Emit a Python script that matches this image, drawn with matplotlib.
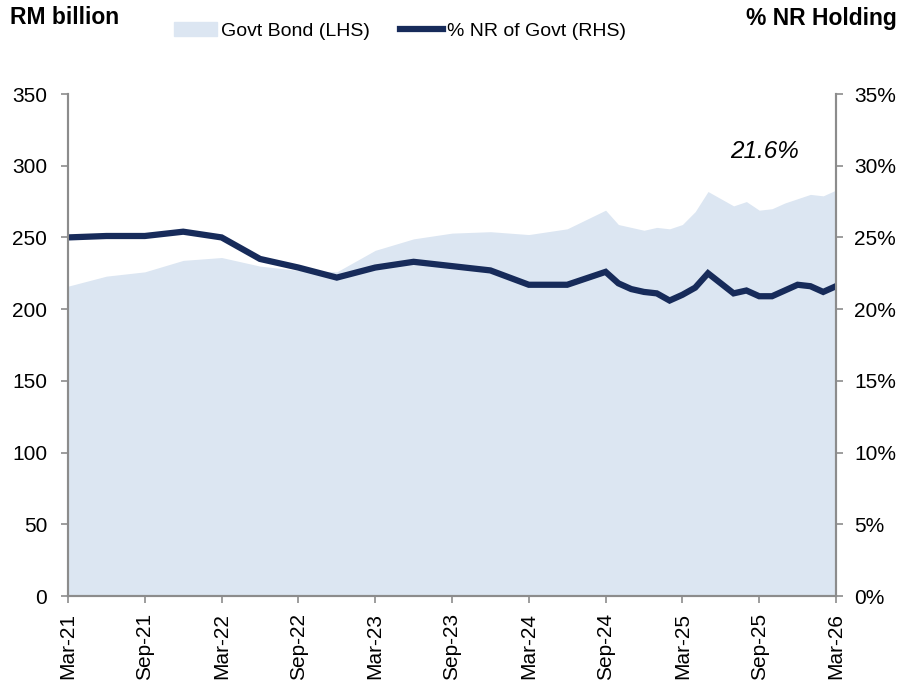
import matplotlib
matplotlib.use("Agg")
import matplotlib.pyplot as plt
import pandas as pd
from matplotlib.lines import Line2D
from matplotlib.patches import Patch
from matplotlib.ticker import FuncFormatter

plt.rcParams['font.family'] = ['Liberation Sans', 'DejaVu Sans']

# quarterly to Sep-24, monthly after that
months = ["2021-03", "2021-06", "2021-09", "2021-12", "2022-03", "2022-06", "2022-09",
          "2022-12", "2023-03", "2023-06", "2023-09", "2023-12", "2024-03", "2024-06",
          "2024-09", "2024-10", "2024-11", "2024-12", "2025-01", "2025-02", "2025-03",
          "2025-04", "2025-05", "2025-06", "2025-07", "2025-08", "2025-09", "2025-10",
          "2025-11", "2025-12", "2026-01", "2026-02", "2026-03"]
govt_bond = [216, 223, 226, 234, 236, 230, 227, 226, 241, 249, 253, 254, 252, 256,
             269, 259, 257, 255, 257, 256, 259, 268, 282, 277, 272, 275, 269, 270,
             274, 277, 280, 279, 283]
nr_share = [25.0, 25.1, 25.1, 25.4, 25.0, 23.5, 22.9, 22.2, 22.9, 23.3, 23.0, 22.7,
            21.7, 21.7, 22.6, 21.8, 21.4, 21.2, 21.1, 20.6, 21.0, 21.5, 22.5, 21.8,
            21.1, 21.3, 20.9, 20.9, 21.3, 21.7, 21.6, 21.2, 21.6]
tick_labels = ["Mar-21", "Sep-21", "Mar-22", "Sep-22", "Mar-23", "Sep-23",
               "Mar-24", "Sep-24", "Mar-25", "Sep-25", "Mar-26"]

fill_col = "#DCE6F2"
line_col = "#172B5A"
grey = "#8C8C8C"

d = pd.to_datetime(months)
x = [(t.year - 2021) * 12 + t.month - 3 for t in d]

fig = plt.figure(figsize=(9.03, 6.84), dpi=100)
ax = fig.add_axes([68 / 903, 88 / 684, 768 / 903, 502 / 684])
ax2 = ax.twinx()

ax.fill_between(x, 0, govt_bond, color=fill_col, lw=0)
ax2.plot(x, nr_share, color=line_col, lw=4.5, solid_joinstyle="miter")

ax.set_xlim(0, 60)
ax.set_ylim(0, 350)
ax2.set_ylim(0, 35)
ax.set_yticks(range(0, 351, 50))
ax2.set_yticks(range(0, 36, 5))
ax2.yaxis.set_major_formatter(FuncFormatter(lambda v, p: f"{v:.0f}%"))
ax.set_xticks(range(0, 61, 6))
ax.set_xticklabels(tick_labels, rotation=90)

for a in (ax, ax2):
    a.spines["top"].set_visible(False)
    for s in ("left", "right", "bottom"):
        a.spines[s].set_color(grey)
        a.spines[s].set_linewidth(1.5)
    a.tick_params(colors=grey, labelcolor="black", labelsize=15, length=5, width=1.2)
ax.tick_params(axis="y", pad=10)
ax2.tick_params(axis="y", pad=8)
ax.tick_params(axis="x", pad=7)

ax2.text(x[-1] - 2.9, 31.0, "21.6%", style="italic", fontsize=17.5, ha="right", va="center")

fig.text(10 / 903, 1 - 18 / 684, "RM billion", fontsize=16.5, fontweight="bold", va="center")
fig.text(897 / 903, 1 - 18 / 684, "% NR Holding", fontsize=16.5, fontweight="bold",
         ha="right", va="center")

handles = [Patch(color=fill_col, label="Govt Bond (LHS)"),
           Line2D([0], [0], color=line_col, lw=4.5, label="% NR of Govt (RHS)")]
fig.legend(handles=handles, loc="center", bbox_to_anchor=(400 / 903, 1 - 31 / 684),
           ncol=2, frameon=False, fontsize=14, handlelength=2.2, handletextpad=0.2,
           columnspacing=1.6)

fig.savefig("out.png", dpi=100)
